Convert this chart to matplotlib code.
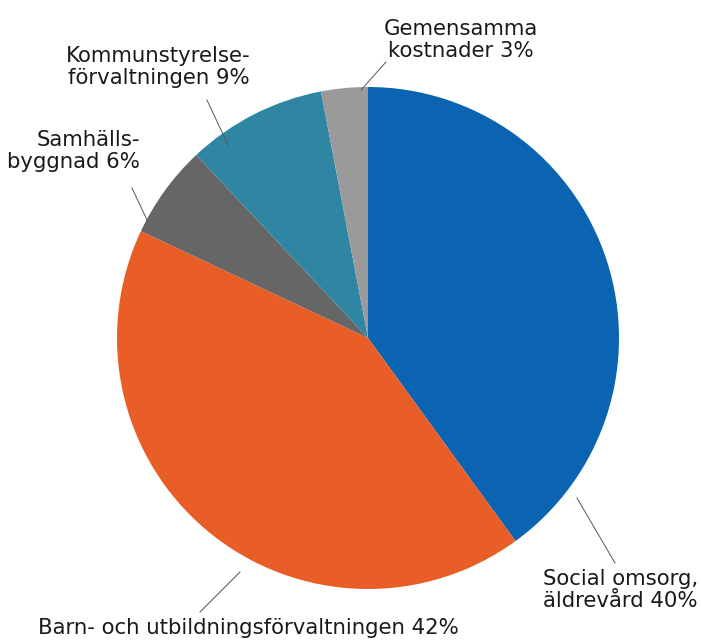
import matplotlib
matplotlib.use("Agg")
import matplotlib.pyplot as plt

# slices, clockwise from 12 o'clock
labels = ["Social omsorg,\näldrevård 40%",
          "Barn- och utbildningsförvaltningen 42%",
          "Samhälls-\nbyggnad 6%",
          "Kommunstyrelse-\nförvaltningen 9%",
          "Gemensamma\nkostnader 3%"]
shares = [40, 42, 6, 9, 3]
colors = ["#0b64b2", "#e95e27", "#666666", "#2f86a2", "#9a9a9a"]

W, H = 701, 643
cx, cy, r = 368, 338, 251

fig = plt.figure(figsize=(W / 100, H / 100), dpi=100)
ax = fig.add_axes([(cx - r) / W, (H - cy - r) / H, 2 * r / W, 2 * r / H])
ax.pie(shares, colors=colors, startangle=90, counterclock=False, radius=1,
       wedgeprops=dict(linewidth=0))
ax.set_xlim(-1, 1)
ax.set_ylim(-1, 1)
ax.set_aspect("equal")
ax.axis("off")


def px(x, y):
    # pixel position -> data coords of the pie axes
    return (x - cx) / r, (cy - y) / r


# label text positions (pixels), alignment, leader line (pixels)
text_pos = [(543, 590, "left"), (38, 628, "left"), (140, 151, "right"),
            (250, 67, "right"), (461, 40, "center")]
leaders = [((577, 498), (615, 563)), ((240, 572), (200, 612)),
           ((148, 222), (132, 188)), ((228, 145), (207, 100)),
           ((361, 90), (386, 62))]

for lab, (tx, ty, ha), (p0, p1) in zip(labels, text_pos, leaders):
    x, y = px(tx, ty)
    ax.text(x, y, lab, ha=ha, va="center", multialignment=ha,
            fontsize=15.3, color="#1a1a1a", linespacing=1.1,
            family="DejaVu Sans", clip_on=False)
    a, b = px(*p0), px(*p1)
    ax.plot([a[0], b[0]], [a[1], b[1]], color="#555555", lw=0.7,
            clip_on=False)

fig.savefig("out.png", dpi=100, facecolor="white")
